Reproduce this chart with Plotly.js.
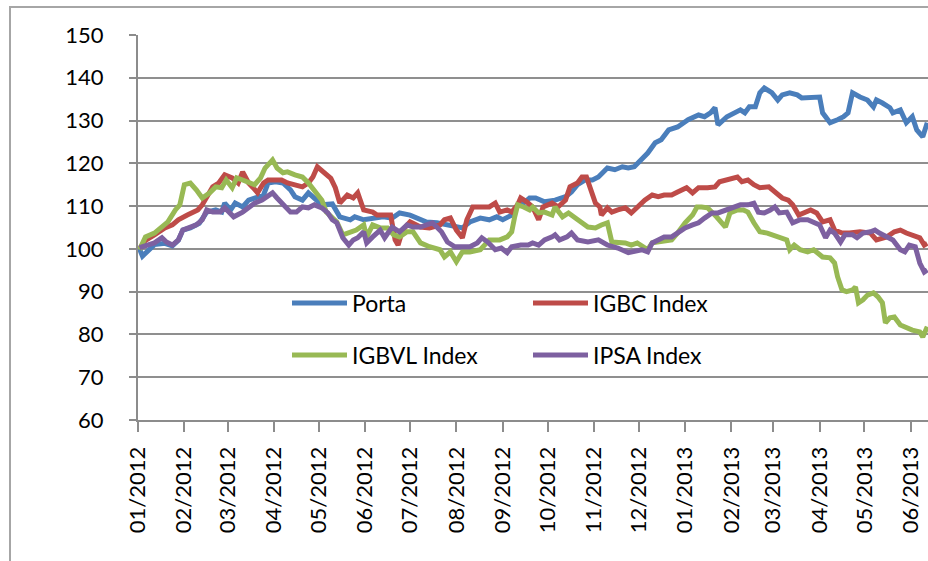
<!DOCTYPE html>
<html><head><meta charset="utf-8">
<script src="https://cdn.plot.ly/plotly-3.0.1.min.js"></script>
<style>
html,body{margin:0;padding:0;background:#fff;overflow:hidden}
#chart{position:absolute;left:0;top:0;width:928px;height:561px}
#frame{position:absolute;left:9px;top:6px;width:1000px;height:700px;border-left:2px solid #a6a6a6;border-top:2px solid #a6a6a6;pointer-events:none}
</style></head><body>
<div id="chart"></div>
<div id="frame"></div>
<script>
const seriesNames = ['Porta', 'IGBC Index', 'IGBVL Index', 'IPSA Index'];

const portaDates = ['2012-01-02','2012-01-04','2012-01-12','2012-01-19','2012-01-24','2012-01-28','2012-01-31','2012-02-05','2012-02-11','2012-02-16','2012-02-22','2012-02-26','2012-02-28','2012-03-03','2012-03-06','2012-03-11','2012-03-15','2012-03-19','2012-03-25','2012-03-28','2012-04-02','2012-04-07','2012-04-12','2012-04-15','2012-04-20','2012-04-24','2012-04-30','2012-05-03','2012-05-10','2012-05-15','2012-05-22','2012-05-25','2012-05-31','2012-06-06','2012-06-13','2012-06-19','2012-06-24','2012-07-01','2012-07-06','2012-07-12','2012-07-19','2012-07-26','2012-08-01','2012-08-05','2012-08-10','2012-08-17','2012-08-23','2012-08-28','2012-09-01','2012-09-07','2012-09-11','2012-09-15','2012-09-19','2012-09-23','2012-09-29','2012-10-06','2012-10-13','2012-10-17','2012-10-21','2012-10-26','2012-10-31','2012-11-04','2012-11-10','2012-11-15','2012-11-20','2012-11-24','2012-11-28','2012-12-03','2012-12-07','2012-12-12','2012-12-16','2012-12-21','2012-12-27','2013-01-03','2013-01-10','2013-01-14','2013-01-18','2013-01-21','2013-01-23','2013-01-29','2013-02-03','2013-02-07','2013-02-10','2013-02-13','2013-02-17','2013-02-20','2013-02-23','2013-02-28','2013-03-04','2013-03-07','2013-03-12','2013-03-17','2013-03-20','2013-03-26','2013-04-01','2013-04-03','2013-04-08','2013-04-13','2013-04-17','2013-04-20','2013-04-23','2013-04-28','2013-05-03','2013-05-07','2013-05-09','2013-05-13','2013-05-18','2013-05-20','2013-05-25','2013-05-29','2013-06-02','2013-06-05','2013-06-09','2013-06-12'];
const portaValues = [100,98.3,101,101.3,100.7,102,104.4,104.9,106,108.6,109.1,108.6,110.7,109.1,110.7,109.8,111.4,111.9,112.6,115.4,115.7,115.4,113.8,112.2,111.4,113.1,111.4,110.3,110.5,107.5,106.8,107.5,106.8,107.2,107.5,107.2,108.4,107.9,107.2,106.3,106.1,105.6,105.1,104.9,106.3,107.2,106.8,107.5,106.8,107.9,110.3,110.7,111.9,111.9,111,111.4,112.2,113.3,115,116.1,116.1,116.8,118.9,118.5,119.2,118.9,119.2,120.8,122.4,124.8,125.5,127.8,128.5,130.2,131.3,130.9,131.8,133,129,130.9,131.8,132.5,131.8,133.2,133.2,136.5,137.6,136.5,134.8,136,136.5,136,135.3,135.3,135.5,131.8,129.5,130.2,130.9,131.8,136.5,135.5,134.8,133.2,134.8,134.1,133,131.8,132.5,129.5,130.9,127.8,126.2,129.5];

const igbcDates = ['2012-01-02','2012-01-06','2012-01-12','2012-01-19','2012-01-24','2012-01-28','2012-02-03','2012-02-10','2012-02-13','2012-02-16','2012-02-20','2012-02-24','2012-02-28','2012-03-04','2012-03-08','2012-03-11','2012-03-15','2012-03-18','2012-03-21','2012-03-25','2012-03-28','2012-04-02','2012-04-06','2012-04-10','2012-04-15','2012-04-20','2012-04-24','2012-04-27','2012-04-30','2012-05-05','2012-05-09','2012-05-12','2012-05-15','2012-05-20','2012-05-24','2012-05-27','2012-05-31','2012-06-06','2012-06-09','2012-06-13','2012-06-18','2012-06-21','2012-06-23','2012-06-26','2012-07-01','2012-07-08','2012-07-14','2012-07-21','2012-07-24','2012-07-28','2012-08-01','2012-08-05','2012-08-08','2012-08-12','2012-08-17','2012-08-23','2012-08-27','2012-08-30','2012-09-04','2012-09-07','2012-09-11','2012-09-13','2012-09-17','2012-09-21','2012-09-25','2012-09-28','2012-10-04','2012-10-08','2012-10-13','2012-10-16','2012-10-21','2012-10-24','2012-10-27','2012-10-31','2012-11-02','2012-11-05','2012-11-06','2012-11-10','2012-11-13','2012-11-17','2012-11-22','2012-11-26','2012-11-30','2012-12-05','2012-12-10','2012-12-14','2012-12-18','2012-12-23','2012-12-27','2013-01-02','2013-01-06','2013-01-10','2013-01-16','2013-01-21','2013-01-24','2013-01-29','2013-02-05','2013-02-08','2013-02-12','2013-02-16','2013-02-20','2013-02-26','2013-03-02','2013-03-07','2013-03-11','2013-03-14','2013-03-18','2013-03-21','2013-03-26','2013-03-30','2013-04-03','2013-04-08','2013-04-11','2013-04-16','2013-04-21','2013-04-28','2013-05-05','2013-05-09','2013-05-16','2013-05-21','2013-05-25','2013-05-29','2013-06-02','2013-06-07','2013-06-10','2013-06-12'];
const igbcValues = [100,102,103.3,104.9,105.6,106.8,107.9,109.1,110.3,111.9,114.5,115.4,117.3,116.6,115.4,118,115.4,114.3,113.1,115.4,116.1,116.1,116.1,115.4,115,114.5,115.4,116.8,119.2,117.8,116.5,114.3,110.7,112.6,111.9,113.1,109.1,108.6,107.9,107.9,107.9,102.1,100.9,104.4,106.3,105.1,104.9,105.6,106.8,107.2,104.4,102.6,106.8,109.8,109.8,109.8,110.7,108.6,109.1,108.6,110.3,111.9,111,109.8,106.8,109.8,110.7,109.8,111.4,114.5,115.4,116.8,116.8,112.2,110.7,109.8,107.9,109.6,108.6,109.1,109.6,108.4,109.8,111.4,112.6,112.2,112.6,112.6,113.3,114.3,113.1,114.3,114.3,114.5,115.7,116.1,116.8,115.7,116.1,115,114.3,114.5,113.3,111.9,111.4,110.3,107.9,108.4,109.1,108.4,106.3,106.8,104.4,103.7,103.7,104,103.7,102.1,102.8,104,104.4,103.7,103.3,102.6,100.9,101.3];

const igbvlDates = ['2012-01-02','2012-01-06','2012-01-12','2012-01-17','2012-01-21','2012-01-26','2012-01-29','2012-02-01','2012-02-05','2012-02-09','2012-02-13','2012-02-18','2012-02-22','2012-02-26','2012-02-29','2012-03-04','2012-03-07','2012-03-11','2012-03-15','2012-03-19','2012-03-23','2012-03-26','2012-03-31','2012-04-03','2012-04-07','2012-04-10','2012-04-15','2012-04-20','2012-04-24','2012-04-28','2012-05-03','2012-05-06','2012-05-13','2012-05-17','2012-05-22','2012-05-26','2012-05-31','2012-06-02','2012-06-06','2012-06-11','2012-06-16','2012-06-20','2012-06-24','2012-06-29','2012-07-03','2012-07-08','2012-07-14','2012-07-21','2012-07-24','2012-07-28','2012-08-01','2012-08-05','2012-08-10','2012-08-17','2012-08-23','2012-08-30','2012-09-04','2012-09-07','2012-09-09','2012-09-11','2012-09-15','2012-09-19','2012-09-21','2012-09-25','2012-09-29','2012-10-04','2012-10-06','2012-10-11','2012-10-15','2012-10-19','2012-10-24','2012-10-28','2012-11-02','2012-11-06','2012-11-10','2012-11-13','2012-11-17','2012-11-22','2012-11-26','2012-11-30','2012-12-04','2012-12-07','2012-12-10','2012-12-16','2012-12-23','2012-12-27','2013-01-01','2013-01-06','2013-01-09','2013-01-12','2013-01-16','2013-01-22','2013-01-28','2013-01-31','2013-02-05','2013-02-09','2013-02-12','2013-02-16','2013-02-20','2013-02-25','2013-03-01','2013-03-05','2013-03-10','2013-03-12','2013-03-15','2013-03-19','2013-03-24','2013-03-28','2013-03-31','2013-04-03','2013-04-08','2013-04-11','2013-04-13','2013-04-16','2013-04-19','2013-04-23','2013-04-25','2013-04-27','2013-04-30','2013-05-03','2013-05-07','2013-05-10','2013-05-13','2013-05-15','2013-05-18','2013-05-21','2013-05-25','2013-05-29','2013-06-02','2013-06-07','2013-06-09','2013-06-12'];
const igbvlValues = [99.8,102.8,103.7,105.1,106.3,109.1,110.3,115,115.4,113.8,111.9,113.1,114.5,114.3,116.1,114.3,116.6,116.1,115.7,115,116.6,118.9,120.8,118.9,117.8,118,117.3,116.8,115.4,113.8,111.4,108.6,106.3,103.3,104,104.4,105.6,102.8,105.6,104.9,104.9,103.3,102.8,104,104,101.4,100.5,99.8,98.1,99.3,97,99.3,99.3,99.8,102.1,102.1,102.8,104,107.5,110.3,109.8,109.1,109.8,108.4,108.6,107.9,109.8,107.5,108.4,107.5,106.1,105.1,104.9,105.6,106.1,101.6,101.4,101.4,100.9,101.4,100.5,99.8,101.4,101.6,102.1,103.7,106.1,107.9,109.8,109.8,109.6,107.5,105.1,108.4,109.1,109.1,108.6,106.1,104,103.7,103.3,102.6,102.1,99.8,100.9,99.8,99.3,99.8,99.1,98.1,97.9,96.7,93.5,90.4,90,90.4,91.1,87.4,88.1,89.2,89.7,88.8,87.4,82.7,83.9,84.1,82.2,81.5,81,80.6,79.4,81.8];

const ipsaDates = ['2012-01-02','2012-01-08','2012-01-12','2012-01-17','2012-01-20','2012-01-24','2012-01-28','2012-01-31','2012-02-05','2012-02-09','2012-02-13','2012-02-16','2012-02-20','2012-02-25','2012-02-28','2012-03-05','2012-03-11','2012-03-15','2012-03-19','2012-03-24','2012-03-27','2012-03-31','2012-04-03','2012-04-07','2012-04-12','2012-04-16','2012-04-20','2012-04-24','2012-04-28','2012-05-03','2012-05-07','2012-05-10','2012-05-13','2012-05-17','2012-05-21','2012-05-24','2012-05-27','2012-05-31','2012-06-02','2012-06-06','2012-06-11','2012-06-14','2012-06-19','2012-06-24','2012-06-29','2012-07-03','2012-07-08','2012-07-12','2012-07-16','2012-07-22','2012-07-26','2012-07-31','2012-08-05','2012-08-10','2012-08-15','2012-08-18','2012-08-22','2012-08-27','2012-08-31','2012-09-04','2012-09-07','2012-09-13','2012-09-18','2012-09-21','2012-09-25','2012-09-29','2012-10-04','2012-10-06','2012-10-09','2012-10-14','2012-10-17','2012-10-21','2012-10-28','2012-11-04','2012-11-10','2012-11-17','2012-11-24','2012-11-28','2012-12-03','2012-12-07','2012-12-10','2012-12-14','2012-12-18','2012-12-23','2012-12-27','2013-01-01','2013-01-06','2013-01-10','2013-01-14','2013-01-19','2013-01-23','2013-01-29','2013-02-02','2013-02-07','2013-02-12','2013-02-16','2013-02-19','2013-02-23','2013-02-27','2013-03-02','2013-03-05','2013-03-10','2013-03-14','2013-03-19','2013-03-24','2013-03-28','2013-04-01','2013-04-05','2013-04-08','2013-04-11','2013-04-15','2013-04-18','2013-04-23','2013-04-26','2013-04-30','2013-05-05','2013-05-08','2013-05-11','2013-05-16','2013-05-20','2013-05-25','2013-05-28','2013-05-31','2013-06-04','2013-06-07','2013-06-10','2013-06-12'];
const ipsaValues = [100.3,100.9,101.4,102.6,101.6,100.9,102.1,104.4,104.9,105.6,106.8,109.1,108.6,108.6,109.6,107.5,108.6,109.8,110.7,111.4,112.2,113.1,111.9,110.3,108.6,108.6,109.8,109.6,110.3,109.6,108.4,106.8,106.1,102.6,100.9,102.1,102.6,104,101.4,102.8,104.4,102.6,105.1,104,105.6,105.1,105.1,105.6,106.1,104,101.6,100.5,100.5,100.5,101.4,102.6,101.6,99.8,100.2,99.1,100.5,100.9,100.9,101.4,100.9,102.1,102.8,103.3,102.1,102.8,103.7,102.1,101.6,102.1,100.9,100.2,99.1,99.3,99.8,99.3,101.4,102.1,102.8,102.8,103.7,104.9,105.6,106.1,107.2,108.4,108.4,109.1,109.8,110.3,110.3,110.7,108.6,108.4,109.1,109.8,108.4,108.6,106.1,106.8,106.8,106.3,105.6,102.6,104.4,103.7,101.6,103.3,103.3,102.6,103.7,104,104.4,103.7,102.8,102.1,99.8,99.3,100.9,100.5,96.7,94.6,95.1];

const yTicks = [60, 70, 80, 90, 100, 110, 120, 130, 140, 150];
const xRange = ['2012-01-01', '2013-06-12 12:00'];

const colors = ['#4A7EBB', '#BE4B48', '#98B954', '#7D60A0'];
const allDates = [portaDates, igbcDates, igbvlDates, ipsaDates];
const allValues = [portaValues, igbcValues, igbvlValues, ipsaValues];
const legendIds = ['legend', 'legend2', 'legend3', 'legend4'];

const FONT = 'Lato, "Open Sans", sans-serif';

const traces = seriesNames.map((name, i) => ({
  type: 'scatter', mode: 'lines', name: name,
  x: allDates[i], y: allValues[i],
  line: {color: colors[i], width: 5},
  legend: legendIds[i],
  hoverinfo: 'skip'
}));

function leg(px, py) {
  return {
    x: (px - 138) / 790, y: (420 - py) / 385,
    xanchor: 'left', yanchor: 'middle',
    bgcolor: 'rgba(0,0,0,0)', borderwidth: 0,
    itemwidth: 55,
    font: {family: FONT, size: 23, color: '#000'}
  };
}

const layout = {
  width: 928, height: 561,
  margin: {l: 138, r: 0, t: 35, b: 141, pad: 0},
  paper_bgcolor: '#fff', plot_bgcolor: '#fff',
  font: {family: FONT, size: 22, color: '#000'},
  showlegend: true,
  legend: leg(287, 303),
  legend2: leg(528, 303),
  legend3: leg(287, 355),
  legend4: leg(528, 355),
  xaxis: {
    type: 'date', range: xRange,
    tick0: '2012-01-01', dtick: 'M1', tickformat: '%m/%Y',
    tickangle: -90,
    ticks: 'outside', ticklen: 10, tickwidth: 2, tickcolor: '#8c8c8c',
    showline: true, linecolor: '#8c8c8c', linewidth: 2,
    showgrid: false, zeroline: false,
    ticklabelstandoff: 6,
    tickfont: {family: FONT, size: 22, color: '#000'}
  },
  yaxis: {
    range: [60, 150], tickvals: yTicks,
    ticks: 'outside', ticklen: 7, tickwidth: 2, tickcolor: '#8c8c8c',
    showline: true, linecolor: '#8c8c8c', linewidth: 2,
    showgrid: true, gridcolor: '#8f8f8f', gridwidth: 2,
    zeroline: false,
    ticklabelstandoff: 21,
    tickfont: {family: FONT, size: 22, color: '#000'}
  }
};

Plotly.newPlot('chart', traces, layout, {staticPlot: true, displayModeBar: false});
</script>
</body></html>
